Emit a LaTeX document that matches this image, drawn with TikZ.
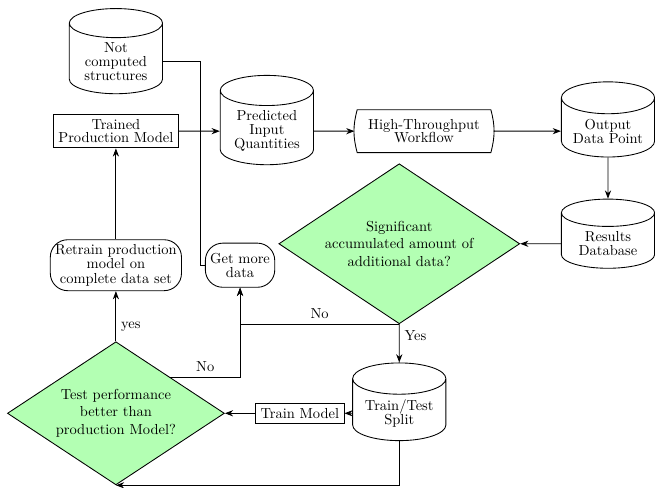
\documentclass[tikz,border=0pt]{standalone}
\usepackage{tikz}
\usetikzlibrary{arrows.meta,calc,positioning,shapes.geometric,shapes.misc}
\definecolor{decisiongreen}{HTML}{B3FFB3}

\begin{document}
\begin{tikzpicture}[>=Stealth,semithick,
  database/.style={draw,cylinder,shape border rotate=90,aspect=0.4,minimum width=2.26cm,align=center,font=\fontsize{10}{9.6}\selectfont},
  process/.style={draw,rectangle,align=center,font=\fontsize{10}{9.4}\selectfont},
  terminal/.style={draw,rectangle,rounded corners=12pt,align=center,font=\fontsize{10}{9.8}\selectfont},
  workflow/.style={rectangle,minimum width=3.24cm,minimum height=1.02cm,outer xsep=1.9pt,align=center,font=\fontsize{10}{9.6}\selectfont},
  decision/.style={draw,diamond,fill=decisiongreen,align=center,inner sep=0pt}]
  \useasboundingbox (0,0) rectangle (15.88,11.81);
  % data sources and the main workflow
  \node[database] (notcomp) at (2.81,10.31) {Not\\computed\\structures};
  \node[process] (trained) at (2.81,8.63) {Trained\\Production Model};
  \node[database] (predicted) at (6.47,8.63) {Predicted\\Input\\Quantities};
  \node[workflow] (htw) at (10.28,8.63) {High-Throughput\\Workflow};
  \draw ([xshift=1.9pt]htw.north west) to[bend right=15] ([xshift=1.9pt]htw.south west)
    -- ([xshift=-1.9pt]htw.south east) to[bend right=15] ([xshift=-1.9pt]htw.north east) -- cycle;
  \node[database] (output) at (14.74,8.63) {Output\\Data Point};
  \node[database] (results) at (14.74,5.9) {Results\\Database};
  \node[decision,aspect=1.5,minimum width=5.84cm,minimum height=3.88cm] (sig) at (9.68,5.9) {Significant\\accumulated amount of\\additional data?};
  % retraining loop
  \node[terminal] (retrain) at (2.81,5.38) {Retrain production\\model on\\complete data set};
  \node[terminal,minimum height=1.07cm] (getmore) at (5.82,5.38) {Get more\\data};
  \node[database] (traintest) at (9.68,1.79) {Train/Test\\Split};
  \node[process] (trainmodel) at (7.27,1.79) {Train Model};
  \node[decision,aspect=1.52,minimum width=5.26cm,minimum height=3.47cm] (test) at (2.81,1.79) {Test performance\\better than\\production Model?};
  \coordinate (joint) at (4.85,5.38);

  \draw[->] (trained) -- (predicted);
  \draw[->] (predicted) -- (htw);
  \draw[->] (htw) -- (output);
  \draw[->] (output) -- (results);
  \draw[->] (results) -- (sig);
  \draw[->] (sig.south) -- node[pos=0.3,right] {Yes} (traintest);
  \draw[->] (sig.south) -| node[pos=0.25,above] {No} (getmore);
  \draw[->] (traintest) -- (trainmodel);
  \draw[->] (trainmodel) -- (test);
  \draw[->] (traintest.south) |- (test.south);
  \draw[->] (test.north east) -| node[pos=0.25,above] {No} (getmore);
  \draw[->] (test) -- node[pos=0.3,right] {yes} (retrain);
  \draw[->] (retrain) -- (trained);
  \draw (notcomp.east) -| (joint) -- (getmore.west);
\end{tikzpicture}
\end{document}
